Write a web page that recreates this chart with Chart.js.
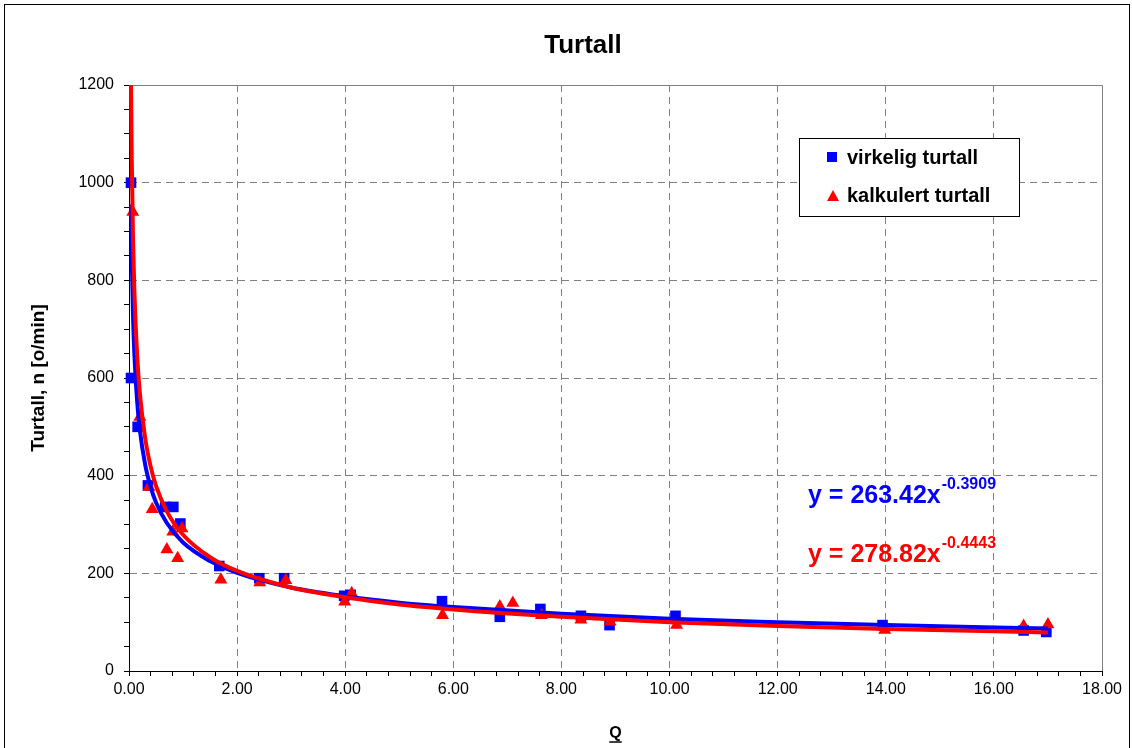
<!DOCTYPE html>
<html>
<head>
<meta charset="utf-8">
<script src="https://cdn.jsdelivr.net/npm/chart.js@4.4.1/dist/chart.umd.min.js"></script>
<style>
  html, body { margin: 0; padding: 0; background: #fff; }
  #wrap { width: 1132px; height: 748px; }
</style>
</head>
<body>
<div id="wrap"><canvas id="turtallChart" width="1132" height="748"></canvas></div>
<script>
// measured points (Q, n)
const qVirkelig = [0.037, 0.037, 0.16, 0.35, 0.67, 0.82, 0.95, 1.67, 2.41, 2.87, 3.98, 4.10, 5.79, 6.86, 7.61, 8.36, 8.89, 10.11, 13.94, 16.55, 16.97];
const nVirkelig = [1000, 600, 500, 380, 336, 336, 302, 215, 190, 190, 154, 156, 143, 111, 127, 113, 94, 113, 94, 83, 80];

const qKalkulert = [0.07, 0.2, 0.37, 0.43, 0.7, 0.81, 0.9, 0.98, 1.7, 2.42, 2.9, 3.99, 4.12, 5.8, 6.86, 7.1, 7.63, 8.36, 8.9, 10.13, 13.98, 16.55, 17.0];
const nKalkulert = [940, 520, 377, 331, 249, 285, 231, 292, 187, 181, 186, 142, 159, 114, 132, 139, 114, 105, 101, 94, 84, 92, 95];

// trendline values
const qTrend = [0.037, 0.05, 0.075, 0.1, 0.15, 0.2, 0.3, 0.4, 0.5, 0.7, 1, 1.5, 2, 3, 4, 5, 6, 8, 10, 12, 14, 17];
const nTrendVirkelig = [956, 850, 725, 648, 553, 494, 422, 377, 345, 303, 263, 225, 201, 171, 153, 140, 131, 117, 107, 100, 94, 87];
const nTrendKalkulert = [1206, 1056, 881, 776, 648, 570, 476, 419, 379, 327, 279, 233, 205, 171, 151, 136, 126, 111, 100, 92, 86, 79];

const eqVirkelig = ['y = 263.42x', '-0.3909'];
const eqKalkulert = ['y = 278.82x', '-0.4443'];
const legendLabels = ['virkelig turtall', 'kalkulert turtall'];

const BLUE = '#0000ff';
const RED = '#ff0000';
const FONT = 'Arial, "Liberation Sans", sans-serif';

function pairs(xs, ys) {
    return xs.map((x, i) => ({ x: x, y: ys[i] }));
}

function isMultiple(v, step) {
    return Math.abs(v / step - Math.round(v / step)) < 1e-6;
}

const decor = {
    id: 'decor',
    beforeDraw(chart) {
        const ctx = chart.ctx;
        ctx.save();
        ctx.fillStyle = '#fff';
        ctx.fillRect(0, 0, chart.width, chart.height);
        ctx.restore();
    },
    beforeDatasetsDraw(chart) {
        const { ctx, chartArea: a } = chart;
        ctx.save();
        ctx.strokeStyle = '#808080';
        ctx.lineWidth = 1;
        ctx.beginPath();
        ctx.moveTo(a.left, a.top + 0.5);
        ctx.lineTo(a.right + 0.5, a.top + 0.5);
        ctx.lineTo(a.right + 0.5, a.bottom);
        ctx.stroke();
        ctx.restore();
    },
    afterDraw(chart) {
        const { ctx, chartArea: a } = chart;
        ctx.save();

        // outer frame
        ctx.strokeStyle = '#000';
        ctx.lineWidth = 1;
        ctx.strokeRect(4.5, 4.5, 1125, 780);

        // legend
        ctx.fillStyle = '#fff';
        ctx.fillRect(800, 138, 219, 78);
        ctx.strokeRect(799.5, 138.5, 220, 78);
        ctx.fillStyle = BLUE;
        ctx.fillRect(827, 152, 10, 10);
        ctx.fillStyle = RED;
        ctx.beginPath();
        ctx.moveTo(833, 190);
        ctx.lineTo(839, 201);
        ctx.lineTo(827, 201);
        ctx.closePath();
        ctx.fill();
        ctx.fillStyle = '#000';
        ctx.font = 'bold 20px ' + FONT;
        ctx.textBaseline = 'middle';
        ctx.fillText(legendLabels[0], 847, 158);
        ctx.fillText(legendLabels[1], 847, 196);

        // trendline equations
        ctx.textBaseline = 'alphabetic';
        [[eqVirkelig, BLUE, 503], [eqKalkulert, RED, 562]].forEach(([eq, col, base]) => {
            ctx.fillStyle = col;
            ctx.font = 'bold 25px ' + FONT;
            ctx.fillText(eq[0], 808, base);
            const w = ctx.measureText(eq[0]).width;
            ctx.font = 'bold 16px ' + FONT;
            ctx.fillText(eq[1], 808 + w + 1, base - 14);
        });

        // underline under the x title
        ctx.font = 'bold 16px ' + FONT;
        const qw = ctx.measureText('Q').width;
        const cx = (a.left + a.right) / 2;
        ctx.strokeStyle = '#000';
        ctx.lineWidth = 1.5;
        ctx.beginPath();
        ctx.moveTo(cx - qw / 2, 742);
        ctx.lineTo(cx + qw / 2, 742);
        ctx.stroke();
        ctx.restore();
    }
};

Chart.defaults.font.family = FONT;
Chart.defaults.color = '#000';

const ctx = document.getElementById('turtallChart');
new Chart(ctx, {
    type: 'scatter',
    data: {
        datasets: [
            {
                label: 'trend kalkulert',
                data: pairs(qTrend, nTrendKalkulert),
                showLine: true,
                borderColor: RED,
                borderWidth: 4,
                pointRadius: 0,
                cubicInterpolationMode: 'monotone',
                order: 0
            },
            {
                label: 'trend virkelig',
                data: pairs(qTrend, nTrendVirkelig),
                showLine: true,
                borderColor: BLUE,
                borderWidth: 4,
                pointRadius: 0,
                cubicInterpolationMode: 'monotone',
                order: 1
            },
            {
                label: legendLabels[1],
                data: pairs(qKalkulert, nKalkulert),
                pointStyle: 'triangle',
                pointRadius: 7.5,
                backgroundColor: RED,
                borderColor: RED,
                borderWidth: 0,
                clip: false,
                order: 2
            },
            {
                label: legendLabels[0],
                data: pairs(qVirkelig, nVirkelig),
                pointStyle: 'rect',
                pointRadius: 7.5,
                backgroundColor: BLUE,
                borderColor: BLUE,
                borderWidth: 0,
                clip: false,
                order: 3
            }
        ]
    },
    options: {
        responsive: false,
        animation: false,
        layout: { padding: { left: 64, right: 30, top: 0, bottom: 0 } },
        plugins: {
            legend: { display: false },
            tooltip: { enabled: false },
            title: {
                display: true,
                text: 'Turtall',
                font: { size: 26, weight: 'bold' },
                padding: { top: 30, bottom: 23.8 }
            }
        },
        scales: {
            x: {
                type: 'linear',
                min: 0,
                max: 18,
                afterFit: (s) => { s.height = 77; },
                ticks: {
                    stepSize: 0.4,
                    autoSkip: false,
                    maxRotation: 0,
                    padding: 4,
                    font: { size: 16 },
                    callback: (v) => isMultiple(v, 2) ? v.toFixed(2) : ''
                },
                grid: {
                    color: (c) => (c.tick && isMultiple(c.tick.value, 2) && c.tick.value > 0 && c.tick.value < 18) ? '#808080' : 'rgba(0,0,0,0)',
                    tickColor: '#000',
                    tickLength: 5
                },
                border: { color: '#000', width: 1, dash: [7, 5] },
                title: {
                    display: true,
                    text: 'Q',
                    font: { size: 16, weight: 'bold' },
                    padding: { bottom: 5 }
                }
            },
            y: {
                min: 0,
                max: 1200,
                afterFit: (s) => { s.width = 65; },
                ticks: {
                    stepSize: 50,
                    autoSkip: false,
                    padding: 10,
                    font: { size: 16 },
                    callback: (v) => isMultiple(v, 200) ? String(v) : ''
                },
                grid: {
                    color: (c) => (c.tick && isMultiple(c.tick.value, 200) && c.tick.value > 0 && c.tick.value < 1200) ? '#808080' : 'rgba(0,0,0,0)',
                    tickColor: '#000',
                    tickLength: 5
                },
                border: { color: '#000', width: 1, dash: [7, 5] },
                title: {
                    display: true,
                    text: 'Turtall, n [o/min]',
                    font: { size: 19, weight: 'bold' },
                    padding: { top: -37 }
                }
            }
        }
    },
    plugins: [decor]
});
</script>
</body>
</html>
